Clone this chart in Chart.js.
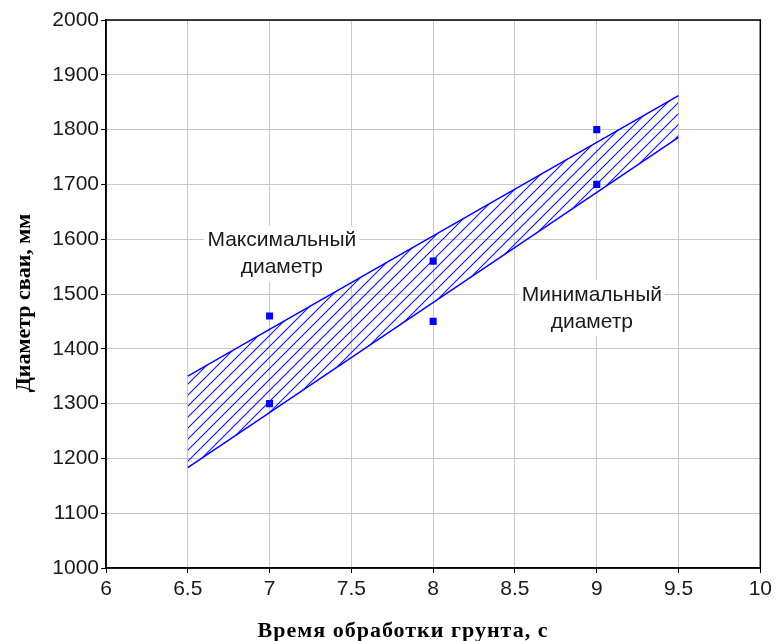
<!DOCTYPE html>
<html>
<head>
<meta charset="utf-8">
<script src="https://cdn.jsdelivr.net/npm/chart.js@4/dist/chart.umd.min.js"></script>
<style>
  html, body { margin: 0; padding: 0; background: #ffffff; }
  #wrap { width: 776px; height: 641px; position: relative; }
</style>
</head>
<body>
<div id="wrap"><canvas id="c" width="776" height="641"></canvas></div>
<script>
// ---- data ----
const xTicks = [6, 6.5, 7, 7.5, 8, 8.5, 9, 9.5, 10];
const xTickLabels = ['6', '6.5', '7', '7.5', '8', '8.5', '9', '9.5', '10'];
const yTicks = [1000, 1100, 1200, 1300, 1400, 1500, 1600, 1700, 1800, 1900, 2000];
const yTickLabels = ['1000', '1100', '1200', '1300', '1400', '1500', '1600', '1700', '1800', '1900', '2000'];

const maxLineTime = [6.5, 9.5];
const maxLineDiam = [1350, 1862];
const minLineTime = [6.5, 9.5];
const minLineDiam = [1183, 1786];

const obsTime = [7, 7, 8, 8, 9, 9];
const obsDiam = [1460, 1300, 1560, 1450, 1800, 1700];

const xTitle = 'Время обработки грунта, с';
const yTitle = 'Диаметр сваи, мм';
const maxLabel = ['Максимальный', 'диаметр'];
const minLabel = ['Минимальный', 'диаметр'];
const maxLabelPos = [7.075, 1573];
const minLabelPos = [8.97, 1474];

// ---- hatch pattern ----
function makeHatch() {
  const s = 11;
  const pc = document.createElement('canvas');
  pc.width = s; pc.height = s;
  const g = pc.getContext('2d');
  g.strokeStyle = '#1010ff';
  g.lineWidth = 1.1;
  g.beginPath();
  g.moveTo(-1, s + 1); g.lineTo(s + 1, -1);
  g.moveTo(-1, 1); g.lineTo(1, -1);
  g.moveTo(s - 1, s + 1); g.lineTo(s + 1, s - 1);
  g.stroke();
  return g.createPattern(pc, 'repeat');
}

const toPts = (xs, ys) => xs.map((x, i) => ({ x: x, y: ys[i] }));
const labelFor = (ticks, labels) => (v) => {
  const i = ticks.findIndex(t => Math.abs(t - v) < 1e-9);
  return i >= 0 ? labels[i] : '';
};

const LABEL_FONT = '21px "Liberation Sans", Arial, sans-serif';
const LH = 27;

function eachLabel(chart, fn) {
  const xs = chart.scales.x, ys = chart.scales.y;
  [[maxLabel, maxLabelPos], [minLabel, minLabelPos]].forEach(([lines, pos]) => {
    fn(lines, xs.getPixelForValue(pos[0]), ys.getPixelForValue(pos[1]));
  });
}

const decor = {
  id: 'decor',
  beforeDatasetsDraw(chart) {
    const ctx = chart.ctx;
    ctx.save();
    ctx.font = LABEL_FONT;
    eachLabel(chart, (lines, cx, cy) => {
      const w = Math.max(...lines.map(l => ctx.measureText(l).width)) + 6;
      const h = LH * lines.length + 2;
      ctx.fillStyle = '#fff';
      ctx.fillRect(cx - w / 2, cy - h / 2, w, h);
    });
    ctx.restore();
  },
  afterDatasetsDraw(chart) {
    const ctx = chart.ctx;
    const a = chart.chartArea;
    ctx.save();
    ctx.strokeStyle = '#000';
    ctx.lineWidth = 1.5;
    ctx.strokeRect(a.left, a.top, a.right - a.left, a.bottom - a.top);
    ctx.font = LABEL_FONT;
    ctx.textAlign = 'center';
    ctx.textBaseline = 'middle';
    ctx.fillStyle = '#1a1a1a';
    eachLabel(chart, (lines, cx, cy) => {
      lines.forEach((l, i) => {
        ctx.fillText(l, cx, cy - (lines.length - 1) * LH / 2 + i * LH);
      });
    });
    ctx.restore();
  },
  afterDraw(chart) {
    const ctx = chart.ctx;
    ctx.save();
    ctx.fillStyle = '#000';
    ctx.font = 'bold 22px "Liberation Serif", "Times New Roman", serif';
    ctx.textAlign = 'center';
    ctx.textBaseline = 'middle';
    ctx.letterSpacing = '1px';
    ctx.fillText(xTitle, 403, 631);
    ctx.letterSpacing = '0px';
    ctx.translate(24, 303);
    ctx.rotate(-Math.PI / 2);
    ctx.fillText(yTitle, 0, 0);
    ctx.restore();
  }
};

new Chart(document.getElementById('c'), {
  type: 'scatter',
  data: {
    datasets: [
      {
        label: 'max',
        data: toPts(maxLineTime, maxLineDiam),
        showLine: true,
        borderColor: '#0000ff',
        borderWidth: 1.5,
        pointRadius: 0,
        fill: '+1',
        backgroundColor: makeHatch(),
        order: 2
      },
      {
        label: 'min',
        data: toPts(minLineTime, minLineDiam),
        showLine: true,
        borderColor: '#0000ff',
        borderWidth: 1.5,
        pointRadius: 0,
        fill: false,
        order: 2
      },
      {
        label: 'obs',
        data: toPts(obsTime, obsDiam),
        showLine: false,
        pointStyle: 'rect',
        pointRadius: 5,
        pointBackgroundColor: '#0000ff',
        pointBorderColor: '#0000ff',
        pointBorderWidth: 0,
        order: 1
      }
    ]
  },
  options: {
    responsive: false,
    animation: false,
    devicePixelRatio: 1,
    layout: { padding: { top: 20, right: 15, bottom: 0, left: 0 } },
    plugins: { legend: { display: false }, tooltip: { enabled: false }, title: { display: false } },
    scales: {
      x: {
        type: 'linear',
        min: 6, max: 10,
        afterBuildTicks: s => { s.ticks = xTicks.map(v => ({ value: v })); },
        afterFit: s => { s.height = 73; },
        grid: { color: '#c8c8c8', lineWidth: 1, tickColor: '#000', tickLength: 5, drawTicks: true },
        border: { color: '#000', width: 1.5 },
        ticks: { color: '#1a1a1a', padding: 4, maxRotation: 0, autoSkip: false,
                 callback: labelFor(xTicks, xTickLabels),
                 font: { family: '"Liberation Sans", Arial, sans-serif', size: 21 } }
      },
      y: {
        type: 'linear',
        min: 1000, max: 2000,
        afterBuildTicks: s => { s.ticks = yTicks.map(v => ({ value: v })); },
        afterFit: s => { s.width = 106; },
        grid: { color: '#c8c8c8', lineWidth: 1, tickColor: '#000', tickLength: 5, drawTicks: true },
        border: { color: '#000', width: 1.5 },
        ticks: { color: '#1a1a1a', padding: 2, autoSkip: false,
                 callback: labelFor(yTicks, yTickLabels),
                 font: { family: '"Liberation Sans", Arial, sans-serif', size: 21 } }
      }
    }
  },
  plugins: [decor]
});
</script>
</body>
</html>
